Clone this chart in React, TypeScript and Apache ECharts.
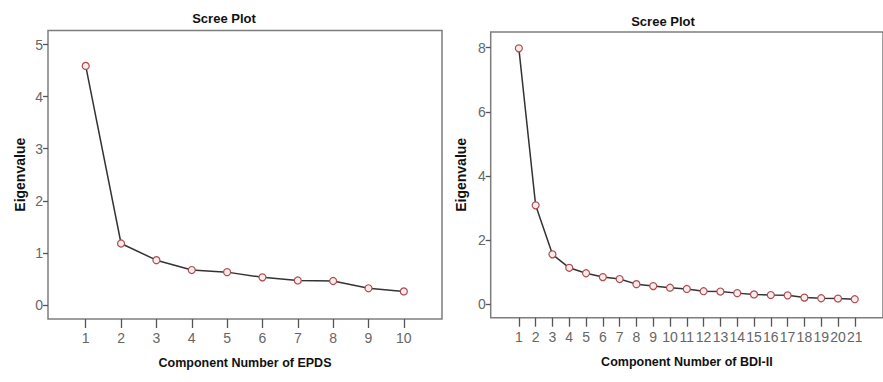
import React, { useEffect, useRef } from "react";
import * as echarts from "echarts";

const epdsComponents = [1, 2, 3, 4, 5, 6, 7, 8, 9, 10];
const epdsEigen = [4.59, 1.18, 0.86, 0.67, 0.63, 0.53, 0.47, 0.46, 0.32, 0.26];
const bdiComponents = [1, 2, 3, 4, 5, 6, 7, 8, 9, 10, 11, 12, 13, 14, 15, 16, 17, 18, 19, 20, 21];
const bdiEigen = [7.98, 3.08, 1.55, 1.13, 0.96, 0.84, 0.78, 0.62, 0.56, 0.51, 0.47, 0.4, 0.39, 0.34, 0.3, 0.28, 0.27, 0.2, 0.18, 0.17, 0.15];
const epdsYTicks = [0, 1, 2, 3, 4, 5];
const bdiYTicks = [0, 2, 4, 6, 8];
const chartTitle = "Scree Plot";
const yName = "Eigenvalue";
const epdsXName = "Component Number of EPDS";
const bdiXName = "Component Number of BDI-II";

const FONT = "'Liberation Sans', Arial, sans-serif";
const FRAME = "#7d7d7d";
const LABEL = "#666666";

export default function App() {
  const ref = useRef<HTMLDivElement>(null);
  useEffect(() => {
    if (!ref.current) return;
    const chart = echarts.init(ref.current, null, { renderer: "svg" });

    const xAxisBase = (gridIndex: number, min: number, max: number, ticks: number[], name: string, gap: number) => ({
      type: "value",
      gridIndex,
      min,
      max,
      name,
      nameLocation: "middle",
      nameGap: gap,
      nameTextStyle: { fontFamily: FONT, fontWeight: "bold", fontSize: 12.5, color: "#111" },
      axisLine: { show: false, onZero: false },
      axisTick: { show: true, customValues: ticks, length: 9, lineStyle: { color: "#555", width: 1.3 } },
      axisLabel: { customValues: ticks, margin: 12, fontFamily: FONT, fontSize: 14, color: LABEL, hideOverlap: false },
      splitLine: { show: false },
    });
    const yAxisBase = (gridIndex: number, min: number, max: number, ticks: number[], gap: number) => ({
      type: "value",
      gridIndex,
      min,
      max,
      name: yName,
      nameLocation: "middle",
      nameGap: gap,
      nameTextStyle: { fontFamily: FONT, fontWeight: "bold", fontSize: 14, color: "#111" },
      axisLine: { show: false, onZero: false },
      axisTick: { show: true, customValues: ticks, length: 5, lineStyle: { color: "#555", width: 1.3 } },
      axisLabel: { customValues: ticks, margin: 5, fontFamily: FONT, fontSize: 14, color: LABEL },
      splitLine: { show: false },
    });
    const seriesBase = (i: number, xs: number[], ys: number[]) => ({
      type: "line",
      xAxisIndex: i,
      yAxisIndex: i,
      data: xs.map((x, k) => [x, ys[k]]),
      symbol: "circle",
      symbolSize: 7,
      itemStyle: { color: "#f8eded", borderColor: "#b24a52", borderWidth: 1.2 },
      lineStyle: { color: "#333333", width: 1.5 },
      silent: true,
    });

    chart.setOption({
      animation: false,
      backgroundColor: "#ffffff",
      grid: [
        { left: 48, top: 30.5, width: 394, height: 288.5, show: true, borderColor: FRAME, borderWidth: 1.5, backgroundColor: "transparent" },
        { left: 490.7, top: 32, width: 394.3, height: 285.7, show: true, borderColor: FRAME, borderWidth: 1.5, backgroundColor: "transparent" },
      ],
      xAxis: [
        xAxisBase(0, -0.067, 11.08, epdsComponents, epdsXName, 37),
        xAxisBase(1, -0.676, 22.68, bdiComponents, bdiXName, 38),
      ],
      yAxis: [
        yAxisBase(0, -0.27, 5.27, epdsYTicks, 21),
        yAxisBase(1, -0.427, 8.49, bdiYTicks, 23),
      ],
      graphic: [
        { type: "text", x: 224, y: 18, style: { text: chartTitle, font: `bold 13px ${FONT}`, fill: "#111", textAlign: "center", textVerticalAlign: "middle" } },
        { type: "text", x: 663, y: 21, style: { text: chartTitle, font: `bold 13px ${FONT}`, fill: "#111", textAlign: "center", textVerticalAlign: "middle" } },
      ],
      series: [seriesBase(0, epdsComponents, epdsEigen), seriesBase(1, bdiComponents, bdiEigen)],
    });
    return () => chart.dispose();
  }, []);
  return <div ref={ref} style={{ position: "fixed", left: 0, top: 0, width: 883, height: 382, overflow: "hidden" }} />;
}
